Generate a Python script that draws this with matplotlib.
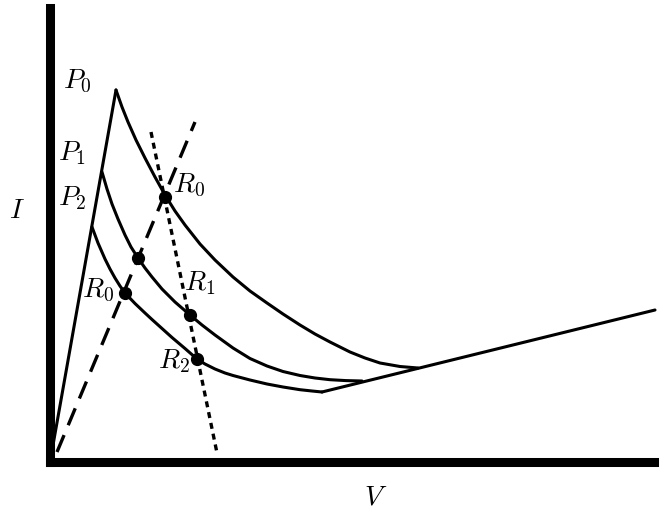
import matplotlib
matplotlib.use("Agg")
import matplotlib.pyplot as plt

plt.rcParams["mathtext.fontset"] = "cm"

# data in pixel-like units measured from the origin (V right, I up)
rise_V = [0, 66]
rise_I = [0, 372]

curve0_V = [66, 72, 78, 86, 95, 105, 115, 125, 135, 150, 165, 183, 200,
            217, 233, 250, 265, 280, 300, 315, 330, 350, 368]
curve0_I = [372, 355, 340, 322, 304, 285, 267, 251, 237, 218, 202, 185, 171,
            159, 148, 137, 128, 120, 110, 104, 99, 95.5, 94]

curve1_V = [52, 57, 62, 68, 75, 81, 88, 95, 102, 112, 125, 140, 152, 165,
            183, 200, 217, 233, 250, 265, 280, 296, 312]
curve1_I = [290, 273, 258, 243, 227, 215, 204, 194, 185, 173, 160, 147, 137,
            127, 114, 103.5, 96, 90.5, 86.5, 84, 82.3, 81.4, 81]

curve2_V = [42, 48, 55, 60, 65, 70, 75, 85, 95, 102, 112, 122, 135, 147,
            155, 165, 175, 183, 200, 217, 233, 250, 262, 272]
curve2_I = [235, 219, 203, 193, 184, 176, 169, 158.5, 149, 142.5, 133.5, 124.5,
            113.5, 103, 98, 93, 89, 86.5, 82, 78, 75, 72.3, 71, 70]

tail_V = [272, 605]
tail_I = [70, 152]

dashed_V = [7, 145]
dashed_I = [10, 340]

dotted_V = [101, 167]
dotted_I = [330, 9]

dots_V = [115, 88, 75, 140, 147]
dots_I = [265, 204, 169, 147, 103]

labels = [r"$P_0$", r"$P_1$", r"$P_2$", r"$R_0$", r"$R_0$", r"$R_1$", r"$R_2$"]
label_V = [27, 22, 22, 139, 48, 150, 124]
label_I = [381, 309, 264, 277, 172, 179, 101]

fig = plt.figure(figsize=(6.64, 5.12), dpi=100)
ax = fig.add_axes([50 / 664, 50 / 512, 603.5 / 664, 454.5 / 512])
ax.set_xlim(0, 603.5)
ax.set_ylim(0, 454.5)

lw = 2.2
for V, I in [(rise_V, rise_I), (curve0_V, curve0_I), (curve1_V, curve1_I),
             (curve2_V, curve2_I), (tail_V, tail_I)]:
    ax.plot(V, I, color="black", lw=lw, solid_joinstyle="round",
            solid_capstyle="round", clip_on=False)

ax.plot(dashed_V, dashed_I, color="black", lw=2.4, linestyle=(0, (5.5, 3.2)))
ax.plot(dotted_V, dotted_I, color="black", lw=2.4, linestyle=(0, (1.8, 1.5)))
ax.plot(dots_V, dots_I, "o", color="black", markersize=8.5, zorder=3)

for txt, x, y in zip(labels, label_V, label_I):
    ax.text(x, y, txt, fontsize=20, ha="center", va="center")

ax.set_xlabel(r"$V$", fontsize=20, labelpad=15, x=0.54)
ax.set_ylabel(r"$I$", fontsize=20, rotation=0, labelpad=24, va="center", y=0.555)

for side in ["top", "right"]:
    ax.spines[side].set_visible(False)
for side in ["left", "bottom"]:
    ax.spines[side].set_linewidth(6.5)
ax.set_xticks([])
ax.set_yticks([])

fig.savefig("out.png", dpi=100)
